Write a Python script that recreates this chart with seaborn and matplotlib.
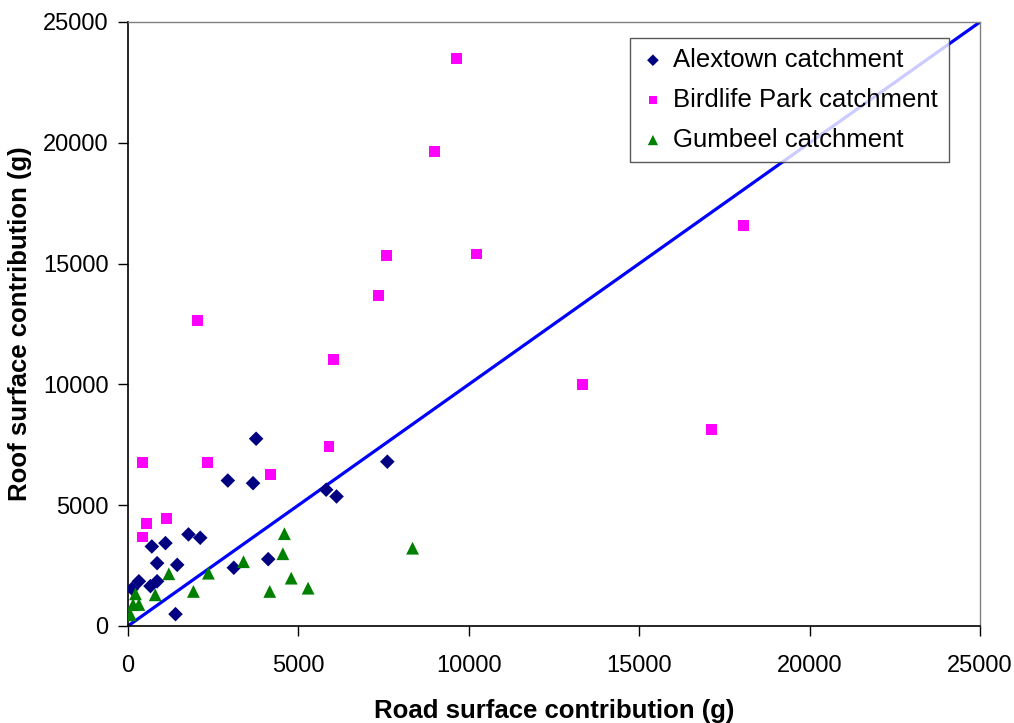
import matplotlib
matplotlib.use("Agg")
import matplotlib.pyplot as plt
import pandas as pd
import seaborn as sns

# Road (x) vs roof (y) contributions, grams
alex_road = [3760, 2930, 3670, 7610, 5815, 6120, 700, 1100, 1775, 2120,
             855, 1445, 320, 660, 855, 120, 3105, 4115, 1395]
alex_roof = [7750, 6020, 5910, 6800, 5640, 5360, 3290, 3430, 3790, 3650,
             2600, 2530, 1850, 1650, 1850, 1540, 2410, 2765, 490]

bird_road = [435, 2335, 5895, 4190, 545, 1120, 435, 2040, 6040, 7595,
             7350, 9000, 9640, 10225, 13335, 17130, 18050]
bird_roof = [6770, 6770, 7440, 6280, 4230, 4440, 3680, 12650, 11020, 15320,
             13680, 19650, 23490, 15400, 10000, 8130, 16580]

gum_road = [4590, 4545, 8350, 3390, 2360, 1200, 4790, 5285, 4160, 1920,
            800, 220, 320, 150, 75]
gum_roof = [3820, 2990, 3220, 2660, 2185, 2160, 1980, 1565, 1430, 1430,
            1290, 1330, 890, 880, 460]

line_x = [0, 25000]
line_y = [0, 25000]

groups = ["Alextown catchment", "Birdlife Park catchment", "Gumbeel catchment"]

df = pd.concat([
    pd.DataFrame({"road": alex_road, "roof": alex_roof, "group": groups[0]}),
    pd.DataFrame({"road": bird_road, "roof": bird_roof, "group": groups[1]}),
    pd.DataFrame({"road": gum_road, "roof": gum_roof, "group": groups[2]}),
])

sns.set_style("white")
plt.rcParams["font.family"] = ["Liberation Sans", "DejaVu Sans"]
plt.rcParams["text.color"] = "black"
plt.rcParams["axes.labelcolor"] = "black"
plt.rcParams["xtick.color"] = "black"
plt.rcParams["ytick.color"] = "black"

fig = plt.figure(figsize=(10.14, 7.23), dpi=100)
ax = fig.add_axes([0.1262, 0.1342, 0.8403, 0.8354])

ax.plot(line_x, line_y, color="#0000FF", lw=2.3, zorder=1)

palette = {groups[0]: "#000080", groups[1]: "#FF00FF", groups[2]: "#008000"}
markers = {groups[0]: "D", groups[1]: "s", groups[2]: "^"}
sizes = {groups[0]: 55, groups[1]: 60, groups[2]: 85}
for g in groups:
    sub = df[df["group"] == g]
    sns.scatterplot(data=sub, x="road", y="roof", color=palette[g], marker=markers[g],
                    s=sizes[g], edgecolor="none", linewidth=0, label=g, ax=ax, zorder=3)

ax.set_xlim(0, 25000)
ax.set_ylim(0, 25000)
ax.set_xticks(range(0, 25001, 5000))
ax.set_yticks(range(0, 25001, 5000))
ax.tick_params(axis="both", labelsize=17, direction="out", length=7, width=1,
               color="black", labelcolor="black", pad=7)
ax.tick_params(axis="x", pad=14)
ax.xaxis.set_ticks_position("bottom")
ax.yaxis.set_ticks_position("left")

for side in ("left", "bottom"):
    ax.spines[side].set_color("black")
    ax.spines[side].set_linewidth(1.2)
for side in ("top", "right"):
    ax.spines[side].set_color("#808080")
    ax.spines[side].set_linewidth(1.0)

ax.set_xlabel("Road surface contribution (g)", fontsize=18.5, fontweight="bold", labelpad=16)
ax.set_ylabel("Roof surface contribution (g)", fontsize=18.5, fontweight="bold", labelpad=8)

leg = ax.legend(loc="upper right", bbox_to_anchor=(0.963, 0.974), fontsize=18.5,
                frameon=True, fancybox=False, markerscale=0.8, handletextpad=0.3,
                handlelength=1.0, borderpad=0.4, labelspacing=0.62, borderaxespad=0)
leg.get_frame().set_edgecolor("#303030")
leg.get_frame().set_linewidth(1.0)

fig.savefig("out.png", dpi=100)
